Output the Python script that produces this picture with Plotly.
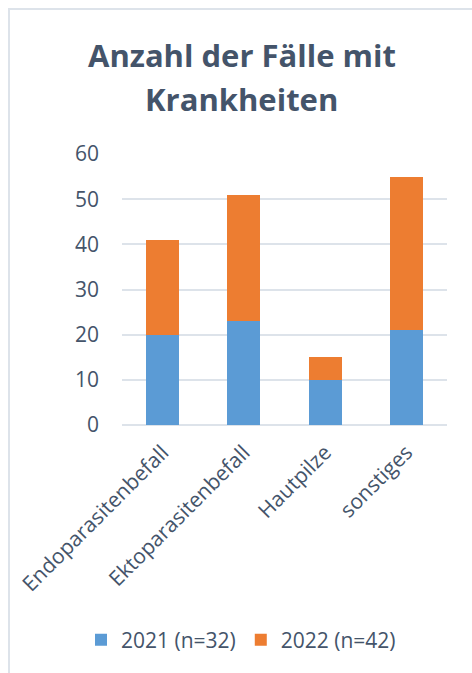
import plotly.graph_objects as go

categories = ["Endoparasitenbefall", "Ektoparasitenbefall", "Hautpilze", "sonstiges"]
values_2021 = [20, 23, 10, 21]
values_2022 = [21, 28, 5, 34]
series_names = ["2021 (n=32)", "2022 (n=42)"]
y_ticks = [0, 10, 20, 30, 40, 50, 60]
title_lines = ["Anzahl der Fälle mit", "Krankheiten"]

TEXT = "#44546a"
GRID = "#dde3ea"
FONT = "Open Sans"

W, H = 472, 673
L, R, T, B = 122, 25, 154, 248
pw = W - L - R
ph = H - T - B

def px_x(p):
    return (p - L) / pw

def px_y(p):
    return (H - B - p) / ph

fig = go.Figure()
fig.add_trace(go.Bar(x=categories, y=values_2021, name=series_names[0],
                     marker=dict(color="#5b9bd5", line=dict(width=0))))
fig.add_trace(go.Bar(x=categories, y=values_2022, name=series_names[1],
                     marker=dict(color="#ed7d31", line=dict(width=0))))

fig.update_layout(
    width=W, height=H,
    margin=dict(l=L, r=R, t=T, b=B, autoexpand=False),
    barmode="stack",
    bargap=0.594,
    paper_bgcolor="white",
    plot_bgcolor="white",
    font=dict(family=FONT, color=TEXT, size=21),
    showlegend=True,
    legend=dict(orientation="h", x=px_x(241), xanchor="center",
                y=px_y(640), yanchor="middle",
                font=dict(size=21, color=TEXT), traceorder="normal",
                itemwidth=30),
    xaxis=dict(tickangle=-45, showgrid=False, showline=False, zeroline=False,
               ticks="", ticklabelstandoff=10,
               tickfont=dict(size=21, color=TEXT)),
    yaxis=dict(range=[0, 60], tickvals=y_ticks, showgrid=True, gridcolor=GRID,
               gridwidth=1.5, zeroline=True, zerolinecolor=GRID, zerolinewidth=1.5,
               showline=False, ticks="", ticklabelstandoff=22,
               tickfont=dict(size=21, color=TEXT)),
)

# Title lines
for i, line in enumerate(title_lines):
    fig.add_annotation(text="<b>%s</b>" % line, xref="paper", yref="paper",
                       x=px_x(241.5), y=px_y([55, 99][i]), xanchor="center", yanchor="middle",
                       showarrow=False, font=dict(size=31, color=TEXT, family=FONT))

# chart frame border
fig.add_shape(type="rect", xref="paper", yref="paper",
              x0=px_x(9), x1=px_x(W + 20), y0=px_y(H + 20), y1=px_y(9),
              line=dict(color=GRID, width=2), fillcolor="rgba(0,0,0,0)", layer="below")

fig.write_html("out.html")
